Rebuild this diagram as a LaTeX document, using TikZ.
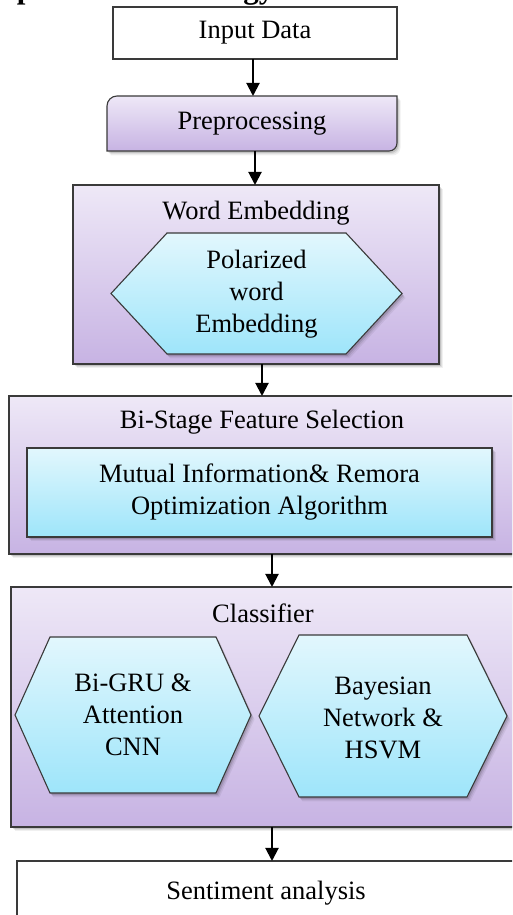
\documentclass[tikz,border=0pt]{standalone}
\usepackage{fontspec}
\setmainfont{Liberation Serif}
\usetikzlibrary{arrows.meta,calc,shadows}

\definecolor{edge}{HTML}{3A3A3A}
\definecolor{lavtop}{HTML}{EEE8F7}
\definecolor{lavbot}{HTML}{C7B3E3}
\definecolor{aquatop}{HTML}{E2F7FD}
\definecolor{aquabot}{HTML}{9EE5FA}

\tikzset{
  lbl/.style={font=\fontsize{26.5}{32}\selectfont, align=center},
  frame/.style={draw=edge, line width=1.1pt},
  lav/.style={frame, top color=lavtop, bottom color=lavbot},
  aqua/.style={frame, top color=aquatop, bottom color=aquabot},
  softshadow/.style={
    drop shadow={shadow xshift=3.5pt, shadow yshift=-4.5pt, opacity=.06, fill=black},
    drop shadow={shadow xshift=2.5pt, shadow yshift=-3.2pt, opacity=.08, fill=black},
    drop shadow={shadow xshift=1.5pt, shadow yshift=-2pt, opacity=.12, fill=black}},
  box/.style={rectangle, inner sep=0pt, outer sep=0pt},
  arr/.style={line width=2pt, -{Triangle[width=13pt,length=13pt]}},
}

\begin{document}
\begin{tikzpicture}[x=1pt,y=1pt]
\useasboundingbox (0,0) rectangle (512,915);
\clip (0,0) rectangle (512,915);

% section heading, only its descenders reach the page
\node[anchor=base west, inner sep=0pt,
      font=\bfseries\fontsize{31}{31}\selectfont] (heading) at (-31,916)
      {Proposed Methodology};

% input
\node[box, frame, fill=white, lbl, minimum width=284pt, minimum height=52pt]
  (input) at (255,882) {Input Data};

% preprocessing: rectangle with two rounded diagonal corners
\node[box, minimum width=290pt, minimum height=55pt] (prep) at (252,791.5) {};
\path[lav, softshadow]
  ([yshift=-10pt]prep.north west) arc[start angle=180, end angle=90, radius=10pt]
  -- (prep.north east)
  -- ([yshift=8pt]prep.south east) arc[start angle=0, end angle=-90, radius=8pt]
  -- (prep.south west) -- cycle;
\node[lbl] (preptext) at (prep) {Preprocessing};

% word embedding stage
\node[box, lav, softshadow, minimum width=366pt, minimum height=179pt]
  (wemb) at (256,640.5) {};
\node[lbl] (wembtitle) at (256,702) {Word Embedding};
\node[box, minimum width=291pt, minimum height=121pt] (pwe) at (256.5,621.5) {};
\path[aqua, softshadow]
  (pwe.west) -- ([xshift=56pt]pwe.north west) -- ([xshift=-56pt]pwe.north east)
  -- (pwe.east) -- ([xshift=-56pt]pwe.south east) -- ([xshift=56pt]pwe.south west)
  -- cycle;
\node[lbl] (pwetext) at ([yshift=-1pt]pwe.center) {Polarized\\word\\Embedding};

% feature selection stage
\node[box, lav, softshadow, minimum width=506pt, minimum height=158pt]
  (bs) at (262,440) {};
\node[lbl] (bstitle) at (262,493) {Bi-Stage Feature Selection};
\node[box, aqua, softshadow, lbl, minimum width=465pt, minimum height=89pt]
  (mi) at (259.5,422.5) {Mutual Information\& Remora\\Optimization Algorithm};

% classifier stage
\node[box, lav, softshadow, minimum width=504pt, minimum height=240pt]
  (cls) at (263,208) {};
\node[lbl] (clstitle) at (263,302) {Classifier};
\node[box, minimum width=236pt, minimum height=156pt] (gru) at (133,200) {};
\path[aqua, softshadow]
  (gru.west) -- ([xshift=35pt]gru.north west) -- ([xshift=-35pt]gru.north east)
  -- (gru.east) -- ([xshift=-35pt]gru.south east) -- ([xshift=35pt]gru.south west)
  -- cycle;
\node[lbl] (grutext) at (gru) {Bi-GRU \&\\Attention\\CNN};
\node[box, minimum width=248pt, minimum height=162pt] (bay) at (383,199) {};
\path[aqua, softshadow]
  (bay.west) -- ([xshift=40pt]bay.north west) -- ([xshift=-40pt]bay.north east)
  -- (bay.east) -- ([xshift=-40pt]bay.south east) -- ([xshift=40pt]bay.south west)
  -- cycle;
\node[lbl] (baytext) at ([yshift=-1.5pt]bay.center) {Bayesian\\Network \&\\HSVM};

% output
\node[box, frame, fill=white, lbl, minimum width=498pt, minimum height=64pt]
  (sa) at (266,22) {Sentiment analysis};

% flow
\draw[arr] ([xshift=-2pt]input.south) -- ([xshift=-2pt]input.south |- prep.north);
\draw[arr] ([xshift=3pt]prep.south) -- ([xshift=3pt]prep.south |- wemb.north);
\draw[arr] ([xshift=6pt]wemb.south) -- ([xshift=6pt]wemb.south |- bs.north);
\draw[arr] ([xshift=10pt]bs.south) -- ([xshift=10pt]bs.south |- cls.north);
\draw[arr] ([xshift=9pt]cls.south) -- ([xshift=9pt]cls.south |- sa.north);
\end{tikzpicture}
\end{document}
